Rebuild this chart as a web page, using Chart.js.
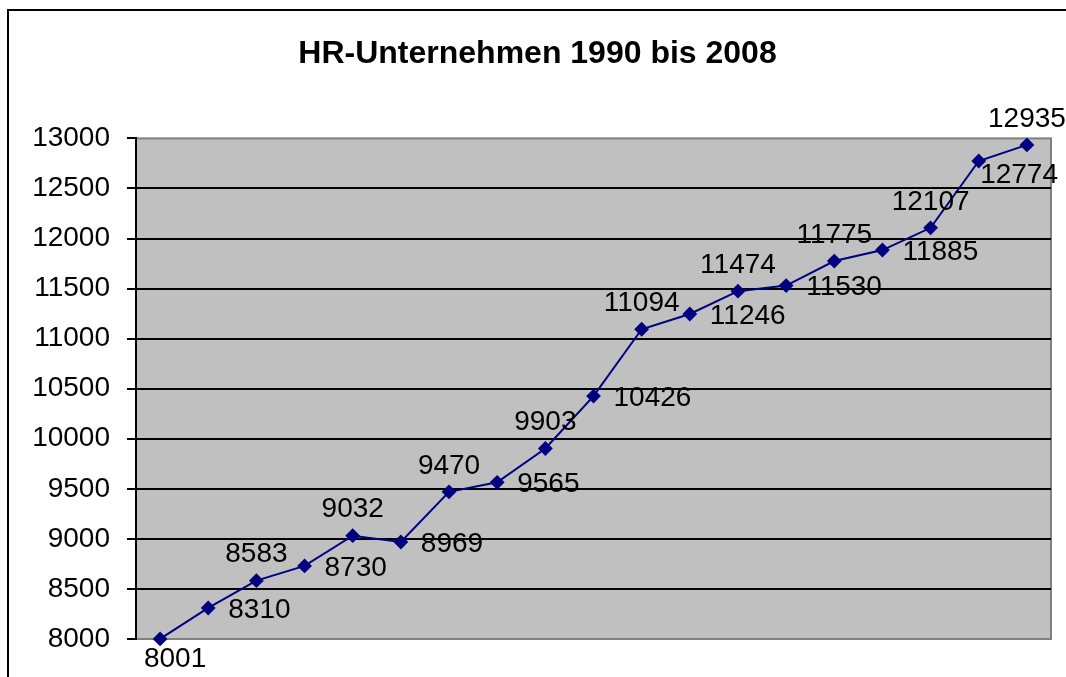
<!DOCTYPE html>
<html>
<head>
<meta charset="utf-8">
<script src="https://cdn.jsdelivr.net/npm/chart.js@4"></script>
<style>
  html, body { margin: 0; padding: 0; background: #fff; overflow: hidden; }
  #wrap { position: relative; width: 1066px; height: 677px; }
  #frame { position: absolute; left: 7px; top: 9px; width: 1100px; height: 700px; border: 2px solid #000; }
  canvas { position: absolute; left: 0; top: 0; }
</style>
</head>
<body>
<div id="wrap">
  <div id="frame"></div>
  <canvas id="hrChart" width="1066" height="677"></canvas>
</div>
<script>
// HR-Unternehmen 1990 - 2008
const years = ["1990", "1991", "1992", "1993", "1994", "1995", "1996", "1997", "1998", "1999",
  "2000", "2001", "2002", "2003", "2004", "2005", "2006", "2007", "2008"];
const companies = [8001, 8310, 8583, 8730, 9032, 8969, 9470, 9565, 9903, 10426,
  11094, 11246, 11474, 11530, 11775, 11885, 12107, 12774, 12935];

const FONT = "Arial, 'Liberation Sans', sans-serif";

// gray plot background with darker border
const plotArea = {
  id: "plotArea",
  beforeDraw(chart) {
    const a = chart.chartArea;
    const ctx = chart.ctx;
    ctx.save();
    ctx.fillStyle = "#c0c0c0";
    ctx.fillRect(a.left, a.top, a.right - a.left, a.bottom - a.top);
    ctx.strokeStyle = "#808080";
    ctx.lineWidth = 2;
    ctx.strokeRect(a.left, a.top, a.right - a.left, a.bottom - a.top);
    ctx.restore();
  },
};

// value labels: first below, odd to the right, even above
const valueLabels = {
  id: "valueLabels",
  afterDatasetsDraw(chart) {
    const ctx = chart.ctx;
    const meta = chart.getDatasetMeta(0);
    ctx.save();
    ctx.font = "28px " + FONT;
    ctx.fillStyle = "#000";
    meta.data.forEach((pt, i) => {
      const txt = String(companies[i]);
      if (i === 0) {
        ctx.textAlign = "center";
        ctx.textBaseline = "top";
        ctx.fillText(txt, pt.x + 15, pt.y + 6);
      } else if (i % 2 === 1) {
        const w = ctx.measureText(txt).width;
        let x = pt.x + 20;
        let y = pt.y + 2;
        // keep it inside the frame, push it down instead
        if (x + w > chart.width - 8) {
          x = chart.width - 8 - w;
          y = pt.y + 14;
        }
        ctx.textAlign = "left";
        ctx.textBaseline = "middle";
        ctx.fillText(txt, x, y);
      } else {
        ctx.textAlign = "center";
        ctx.textBaseline = "bottom";
        ctx.fillText(txt, pt.x, pt.y - 12);
      }
    });
    ctx.restore();
  },
};

new Chart(document.getElementById("hrChart"), {
  type: "line",
  data: {
    labels: years,
    datasets: [
      {
        label: "HR-Unternehmen",
        data: companies,
        borderColor: "#000080",
        backgroundColor: "#000080",
        borderWidth: 2,
        pointStyle: "rectRot",
        pointRadius: 6,
        pointHoverRadius: 6,
        tension: 0,
        clip: false,
      },
    ],
  },
  options: {
    responsive: false,
    animation: false,
    events: [],
    layout: { padding: { left: 24, right: 15, top: 0, bottom: 38 } },
    plugins: {
      legend: { display: false },
      tooltip: { enabled: false },
      title: {
        display: true,
        text: "HR-Unternehmen 1990 bis 2008",
        color: "#000",
        font: { family: FONT, size: 32, weight: "bold" },
        padding: { top: 35, bottom: 65 },
      },
    },
    scales: {
      x: { display: false, offset: true },
      y: {
        min: 8000,
        max: 13000,
        afterFit(scale) { scale.width = 112; },
        ticks: {
          stepSize: 500,
          color: "#000",
          padding: 17,
          font: { family: FONT, size: 28 },
          callback: (v) => String(v),
        },
        grid: {
          color: (c) => (c.tick && (c.tick.value === 8000 || c.tick.value === 13000)) ? "rgba(0,0,0,0)" : "#000",
          lineWidth: 2,
          tickColor: "#000",
          tickLength: 9,
        },
        border: { color: "#000", width: 2 },
      },
    },
  },
  plugins: [plotArea, valueLabels],
});
</script>
</body>
</html>
